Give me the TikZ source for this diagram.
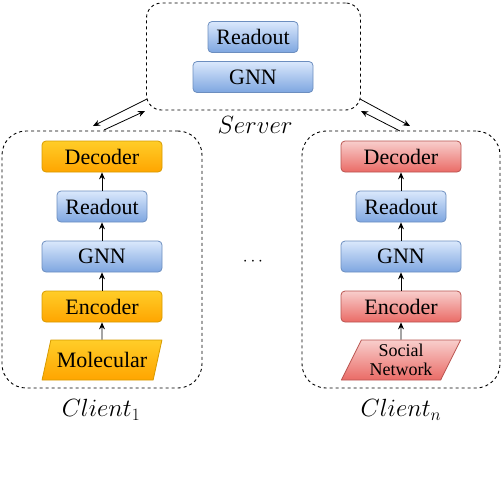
\documentclass[tikz,border=0pt]{standalone}
\usepackage{fontspec}
\setmainfont{Liberation Serif}
\usetikzlibrary{shapes.geometric,arrows.meta}
\definecolor{orgtop}{HTML}{FFCD28}
\definecolor{orgbot}{HTML}{FFA500}
\definecolor{orgline}{HTML}{D79B00}
\definecolor{blutop}{HTML}{DAE8FC}
\definecolor{blubot}{HTML}{7EA6E0}
\definecolor{bluline}{HTML}{6C8EBF}
\definecolor{redtop}{HTML}{F8CECC}
\definecolor{redbot}{HTML}{EA6B66}
\definecolor{redline}{HTML}{B85450}
\begin{document}
\begin{tikzpicture}[x=1pt,y=-1pt, line join=round, >={Stealth[length=7pt,width=6pt]},font=\fontsize{22}{24}\selectfont]
\tikzset{blk/.style={draw, rounded corners=4pt, minimum height=31pt, inner sep=0pt, line width=0.8pt},
	wideblk/.style={blk, minimum width=120pt},
	narrowblk/.style={blk, minimum width=90pt},
	orangefill/.style={top color=orgtop, bottom color=orgbot, draw=orgline},
	bluefill/.style={top color=blutop, bottom color=blubot, draw=bluline},
	redfill/.style={top color=redtop, bottom color=redbot, draw=redline},
	dataset/.style={trapezium, trapezium left angle=63.4, trapezium right angle=116.6, trapezium stretches=true, minimum width=120pt, minimum height=40pt, inner sep=0pt, draw, line width=0.8pt, align=center},
	group/.style={draw, dash pattern=on 3pt off 3pt, line width=0.9pt, inner sep=0pt},
	link/.style={->, line width=0.8pt},
	every node/.style={text=black}}
\useasboundingbox (0,0) rectangle (501,480);
\def\xl{102}\def\xr{401}
%Server
\node[group, rounded corners=15pt, minimum width=214pt, minimum height=107pt] (server) at (253.5,56.5) {};
\node[narrowblk, bluefill] (sread) at (253,37) {Readout};
\node[wideblk, bluefill] (sgnn) at (253,77) {GNN};
\node (slabel) at (255,125) {\fontsize{23}{26}\selectfont$Server$};
%Client 1
\node[group, rounded corners=24pt, minimum width=200pt, minimum height=257pt] (lclient) at (102,259.5) {};
\node[wideblk, orangefill] (ldec) at (\xl,156.5) {Decoder};
\node[narrowblk, bluefill] (lread) at (\xl,206.5) {Readout};
\node[wideblk, bluefill] (lgnn) at (\xl,256.5) {GNN};
\node[wideblk, orangefill] (lenc) at (\xl,306.5) {Encoder};
\node[dataset, orangefill] (ldata) at (\xl,360) {Molecular};
\node (llabel) at (101,410) {\fontsize{23}{26}\selectfont$Client_1$};
%Client n
\node[group, rounded corners=24pt, minimum width=198pt, minimum height=257pt] (rclient) at (401,259.5) {};
\node[wideblk, redfill] (rdec) at (\xr,156.5) {Decoder};
\node[narrowblk, bluefill] (rread) at (\xr,206.5) {Readout};
\node[wideblk, bluefill] (rgnn) at (\xr,256.5) {GNN};
\node[wideblk, redfill] (renc) at (\xr,306.5) {Encoder};
\node[dataset, redfill, font=\fontsize{18}{19}\selectfont] (rdata) at (\xr,360) {Social\\Network};
\node (rlabel) at (401,410) {\fontsize{23}{26}\selectfont$Client_n$};
\node (dots) at (253,262) {\fontsize{18}{20}\selectfont$\cdots$};
%Vẽ mũi tên
\foreach \c in {l,r}{
	\draw[link] (\c data) -- (\c enc);
	\draw[link] (\c enc) -- (\c gnn);
	\draw[link] (\c gnn) -- (\c read);
	\draw[link] (\c read) -- (\c dec);
}
\coordinate (sl1) at (147,99); \coordinate (cl1) at (93,126);
\coordinate (cl2) at (104,130); \coordinate (sl2) at (145,111);
\coordinate (sr1) at (360,99); \coordinate (cr1) at (410,126);
\coordinate (cr2) at (400,131); \coordinate (sr2) at (361,111);
\draw[link] (sl1) -- (cl1);
\draw[link] (cl2) -- (sl2);
\draw[link] (sr1) -- (cr1);
\draw[link] (cr2) -- (sr2);
\end{tikzpicture}
\end{document}
